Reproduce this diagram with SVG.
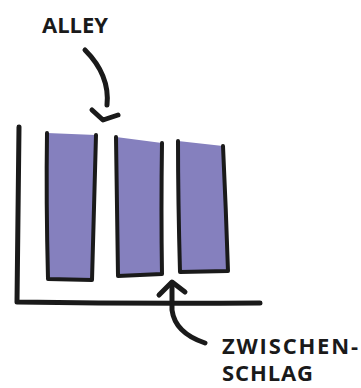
<svg xmlns="http://www.w3.org/2000/svg" width="361" height="388" viewBox="0 0 361 388">
<style>
.ln{fill:none;stroke:#1a1a1a;stroke-width:5;stroke-linecap:round;stroke-linejoin:round}
.fill{fill:#8580be;stroke:none}
.edge{fill:none;stroke:#1a1a1a;stroke-width:4;stroke-linecap:round;stroke-linejoin:round}
.t{font-family:"Open Sans","Liberation Sans",sans-serif;font-weight:bold;font-size:22px;fill:#1a1a1a}
</style>
<rect width="361" height="388" fill="#fff"/>
<g id="axes">
<path class="ln" d="M19,127 Q18,200 17,302 Q140,304 260,303"/>
</g>
<g id="bar1">
<path class="fill" d="M47,133 L96,135 Q94,210 92,280 L48,279 Q46,200 47,133 Z"/>
<path class="edge" d="M47,133 Q46,200 48,279 L92,280 Q94,210 96,135"/>
</g>
<g id="bar2">
<path class="fill" d="M116,137 L162,143 Q161,210 162,274 L118,276 Q117,200 116,137 Z"/>
<path class="edge" d="M116,137 Q117,200 118,276 L162,274 Q161,210 162,143"/>
</g>
<g id="bar3">
<path class="fill" d="M178,141 L223,146 Q226,210 228,271 L180,272 Q178,200 178,141 Z"/>
<path class="edge" d="M178,141 Q178,200 180,272 L228,271 Q226,210 223,146"/>
</g>
<g id="connectors">
<path class="ln" d="M85,50 Q110,75 107,105"/>
<path class="ln" d="M92,110 L103,120 L118,115"/>
<path class="ln" d="M172,283 L172,310 Q175,333 205,343"/>
<path class="ln" d="M159,295 L172,282 L185,292"/>
</g>
<g id="label-alley"><text class="t" x="42" y="33" textLength="66">ALLEY</text></g>
<g id="label-zwischenschlag">
<text class="t" x="222" y="354" textLength="136">ZWISCHEN-</text>
<text class="t" x="222" y="381" textLength="91">SCHLAG</text>
</g>
</svg>
